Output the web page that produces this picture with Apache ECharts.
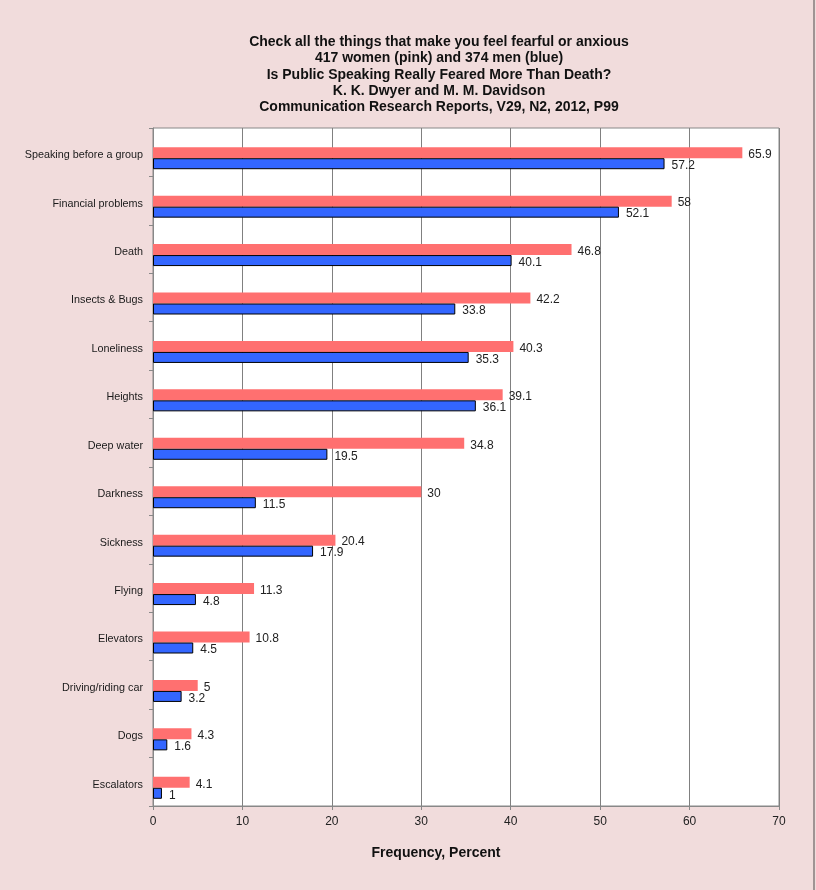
<!DOCTYPE html>
<html>
<head>
<meta charset="utf-8">
<script src="https://cdn.jsdelivr.net/npm/echarts@6/dist/echarts.min.js"></script>
<style>
html,body{margin:0;padding:0;background:#f1dcdc;}
#chart{width:816px;height:890px;}
</style>
</head>
<body>
<div id="chart"></div>
<script>
const categories = ["Speaking before a group","Financial problems","Death","Insects & Bugs","Loneliness","Heights","Deep water","Darkness","Sickness","Flying","Elevators","Driving/riding car","Dogs","Escalators"];
const women = [65.9, 58, 46.8, 42.2, 40.3, 39.1, 34.8, 30, 20.4, 11.3, 10.8, 5, 4.3, 4.1];
const men = [57.2, 52.1, 40.1, 33.8, 35.3, 36.1, 19.5, 11.5, 17.9, 4.8, 4.5, 3.2, 1.6, 1];
const titleLines = [
  "Check all the things that make you feel fearful or anxious",
  "417 women (pink) and 374 men (blue)",
  "Is Public Speaking Really Feared More Than Death?",
  "K. K. Dwyer and M. M. Davidson",
  "Communication Research Reports, V29, N2, 2012, P99"
];
const xTicks = [0,10,20,30,40,50,60,70];

const FONT = "'Liberation Sans', Arial, sans-serif";
const chart = echarts.init(document.getElementById('chart'));
chart.setOption({
  backgroundColor: '#f1dcdc',
  animation: false,
  textStyle: {fontFamily: FONT},
  graphic: [
    {type:'text', x:439, y:34, style:{text: titleLines.join('\n'), textAlign:'center', textVerticalAlign:'top', font:"bold 14px 'Liberation Sans', Arial, sans-serif", lineHeight:16.3, fill:'#111'}},
    {type:'rect', shape:{x:813, y:0, width:2, height:890}, style:{fill:'#a09494'}}
  ],
  grid: {left:153, right:37, top:128, bottom:84, show:true, backgroundColor:'#ffffff', borderColor:'#888', borderWidth:1},
  xAxis: {
    type:'value', min:0, max:70, interval:10,
    name:'Frequency, Percent', nameLocation:'middle', nameGap:40,
    nameTextStyle:{fontSize:14, fontWeight:'bold', color:'#111', padding:[0,60,0,0]},
    axisLine:{show:true, lineStyle:{color:'#888'}},
    axisTick:{show:true, length:4, lineStyle:{color:'#888'}},
    axisLabel:{fontSize:12, color:'#222', margin:10, formatter: v => xTicks.includes(v) ? String(v) : ''},
    splitLine:{show:true, lineStyle:{color:'#808080', width:1}}
  },
  yAxis: {
    type:'category', data: categories, inverse:true,
    axisLine:{show:true, lineStyle:{color:'#888'}},
    axisTick:{show:true, length:4, lineStyle:{color:'#888'}},
    axisLabel:{margin:10, formatter: v => '{c|' + v + '}',
      rich:{c:{fontSize:10.8, color:'#1a1a1a', fontFamily:FONT, padding:[6,0,0,0]}}}
  },
  series: [
    {name:'spacer', type:'bar', barWidth:12, data:[], silent:true},
    {name:'Women', type:'bar', data: women, barWidth:11, barGap:'0%',
      itemStyle:{color:'#ff7070'},
      label:{show:true, position:'right', distance:6, fontSize:12, color:'#222', offset:[0,2]}},
    {name:'Men', type:'bar', data: men, barWidth:11, barGap:'0%',
      itemStyle:{color:'#3366ff', borderColor:'#000', borderWidth:1},
      label:{show:true, position:'right', distance:7, fontSize:12, color:'#222', offset:[0,2]}}
  ]
});
</script>
</body>
</html>
